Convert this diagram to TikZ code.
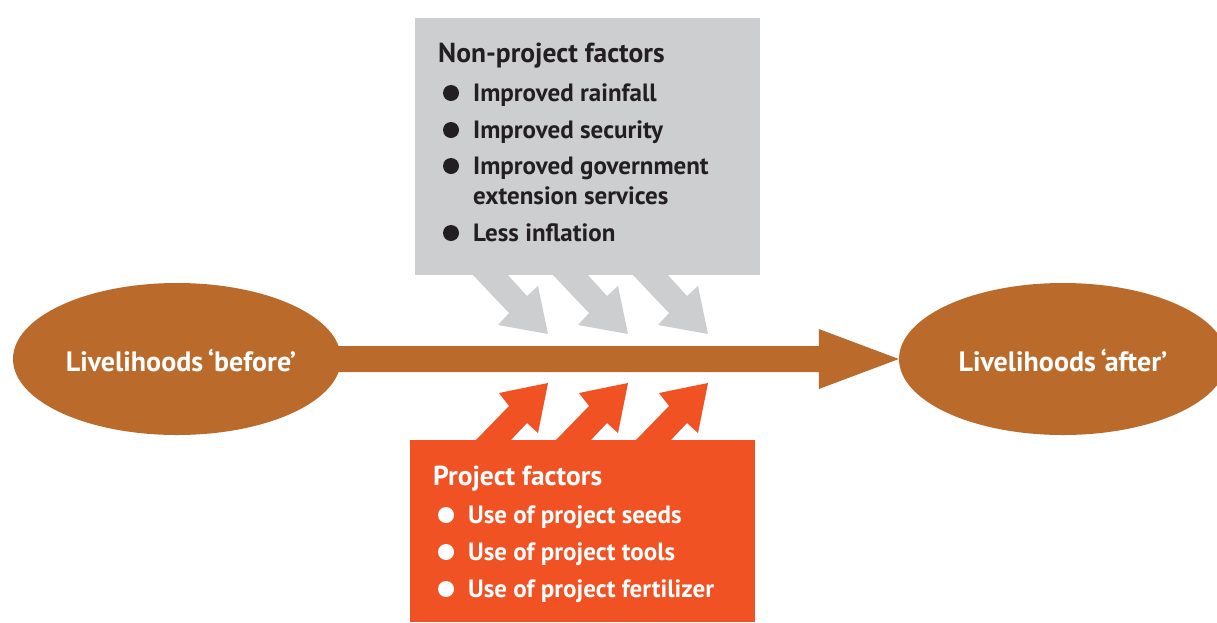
\documentclass[tikz,border=0pt]{standalone}
\usepackage{fontspec}
\setmainfont{PT Sans}
\usetikzlibrary{shapes.geometric,calc}
\definecolor{brownc}{HTML}{BA6A2A}
\definecolor{grayc}{HTML}{CDCED0}
\definecolor{orangec}{HTML}{F05223}
\definecolor{darkc}{HTML}{231F20}
\tikzset{
  ell/.style={ellipse, fill=brownc, minimum width=328pt, minimum height=152pt, inner sep=0pt},
  etext/.style={text=white, font=\fontsize{28}{32}\selectfont\bfseries},
  box/.style={anchor=north west, inner sep=0pt, minimum width=345pt},
  gtext/.style={anchor=base west, inner sep=0pt, text=darkc, font=\fontsize{25}{30}\selectfont\bfseries},
  otext/.style={anchor=base west, inner sep=0pt, text=white, font=\fontsize{25}{30}\selectfont\bfseries},
  hfont/.style={font=\fontsize{27.5}{32}\selectfont\bfseries},
}
\begin{document}
\begin{tikzpicture}[x=1pt,y=-1pt]
\useasboundingbox (0,0) rectangle (1217,622);
% boxes
\node[box, fill=grayc, minimum height=257pt] (gbox) at (415,18) {};
\node[box, fill=orangec, minimum height=182pt] (obox) at (410,440) {};
% ellipses
\node[ell] (before) at (177,359) {};
\node[ell] (after) at (1063,359) {};
\node[etext, anchor=base] (bt) at (181,371) {Livelihoods\,‘before’};
\node[etext, anchor=base] (at) at (1063,371) {Livelihoods\,‘after’};
% main arrow
\fill[brownc] ($(before.east)+(-10,-13)$) -- ($(after.west)+(-80,-13)$) -- ($(after.west)+(-80,-30)$)
  -- (after.west) -- ($(after.west)+(-80,30)$) -- ($(after.west)+(-80,13)$) -- ($(before.east)+(-10,13)$) -- cycle;
% gray arrows
\foreach \d in {0,80,160}{
  \fill[grayc] (472+\d,274) -- (509+\d,313) -- (498+\d,325) -- (548+\d,334) -- (538+\d,286) -- (527+\d,296) -- (507+\d,274) -- cycle;
}
% orange arrows
\foreach \d in {0,80,160}{
  \fill[orangec] (475+\d,441) -- (509+\d,406) -- (499+\d,393) -- (548+\d,383) -- (538+\d,433) -- (527+\d,423) -- (510+\d,441) -- cycle;
}
% gray text
\node[gtext, hfont] (gh) at (438,62) {Non-project factors};
\node[gtext] (g1) at (473,101) {Improved rainfall};
\node[gtext] (g2) at (473,138) {Improved security};
\node[gtext] (g3) at (473,174) {Improved government};
\node[gtext] (g3b) at (473,204) {extension services};
\node[gtext] (g4) at (473,241) {Less inflation};
\foreach \y in {93,130,166,233} \fill[darkc] (451,\y) circle (8);
% orange text
\node[otext, hfont] (oh) at (433,485) {Project factors};
\node[otext] (o1) at (468,523) {Use of project seeds};
\node[otext] (o2) at (468,560) {Use of project tools};
\node[otext] (o3) at (468,597) {Use of project fertilizer};
\foreach \y in {515,552,589} \fill[white] (446,\y) circle (8);
\end{tikzpicture}
\end{document}
